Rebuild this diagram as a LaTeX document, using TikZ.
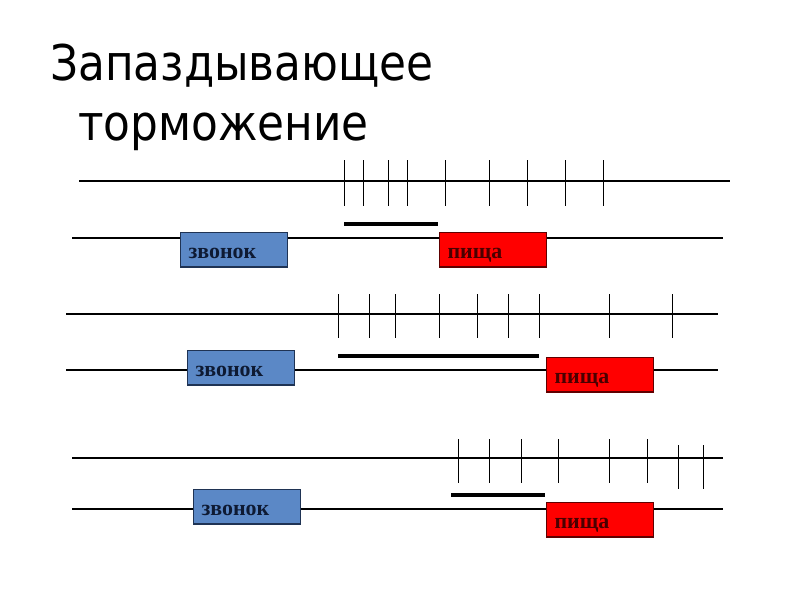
\documentclass[tikz,border=0pt]{standalone}
\usepackage{fontspec}
\setmainfont{Liberation Serif}
\newfontfamily\titlefont[FakeStretch=0.89]{DejaVu Sans}
\definecolor{bellblue}{HTML}{5B88C6}
\definecolor{bellborder}{HTML}{1F3354}
\definecolor{belltext}{HTML}{0E1A33}
\definecolor{foodred}{HTML}{FF0000}
\definecolor{foodborder}{HTML}{600000}
\definecolor{foodtext}{HTML}{4A0000}
\begin{document}
\begin{tikzpicture}[x=0.025cm, y=-0.025cm,
  trace/.style={line width=1.4pt},
  spike/.style={line width=0.7pt},
  delay/.style={line width=2.6pt},
  signal/.style={draw, line width=0.8pt, anchor=north west, inner xsep=0.2cm, inner ysep=0pt,
    text width=2.275cm, minimum height=0.86cm, text height=0.45cm, text depth=0pt, align=left,
    font=\bfseries\fontsize{15.6}{18}\selectfont},
  bell/.style={signal, fill=bellblue, draw=bellborder, text=belltext},
  food/.style={signal, fill=foodred, draw=foodborder, text=foodtext}]
\useasboundingbox (0,0) rectangle (800,600);

\node[anchor=base west, inner sep=0pt, font=\titlefont\fontsize{35}{42}\selectfont] (t1) at (50,80) {Запаздывающее};
\node[anchor=base west, inner sep=0pt, font=\titlefont\fontsize{35}{42}\selectfont] (t2) at (78,140) {торможение};

% first trial
\coordinate (r1a) at (79,181); \coordinate (r1b) at (730,181);
\coordinate (s1a) at (72,238); \coordinate (s1b) at (723,238);
\coordinate (d1a) at (344,224); \coordinate (d1b) at (438,224);
\draw[trace] (r1a)--(r1b);
\foreach \x in {344,363,388,407,445,489,527,565,603}
  \draw[spike] (\x,160)--(\x,206);
\draw[delay] (d1a)--(d1b);
\draw[trace] (s1a)--(s1b);
\node[bell] (b1) at (180,232) {звонок};
\node[food] (f1) at (439,232) {пища};

% second trial
\coordinate (r2a) at (66,314); \coordinate (r2b) at (718,314);
\coordinate (s2a) at (66,370); \coordinate (s2b) at (718,370);
\coordinate (d2a) at (338,356); \coordinate (d2b) at (539,356);
\draw[trace] (r2a)--(r2b);
\foreach \x in {338,369,395,439,477,508,539,609,672}
  \draw[spike] (\x,294)--(\x,338);
\draw[delay] (d2a)--(d2b);
\draw[trace] (s2a)--(s2b);
\node[bell] (b2) at (187,350) {звонок};
\node[food] (f2) at (546,357) {пища};

% third trial
\coordinate (r3a) at (72,458); \coordinate (r3b) at (723,458);
\coordinate (s3a) at (72,509); \coordinate (s3b) at (723,509);
\coordinate (d3a) at (451,495); \coordinate (d3b) at (545,495);
\draw[trace] (r3a)--(r3b);
\foreach \x in {458,489,521,558,609,647}
  \draw[spike] (\x,439)--(\x,483);
\foreach \x in {678,703}
  \draw[spike] (\x,445)--(\x,489);
\draw[delay] (d3a)--(d3b);
\draw[trace] (s3a)--(s3b);
\node[bell] (b3) at (193,489) {звонок};
\node[food] (f3) at (546,502) {пища};
\end{tikzpicture}
\end{document}
